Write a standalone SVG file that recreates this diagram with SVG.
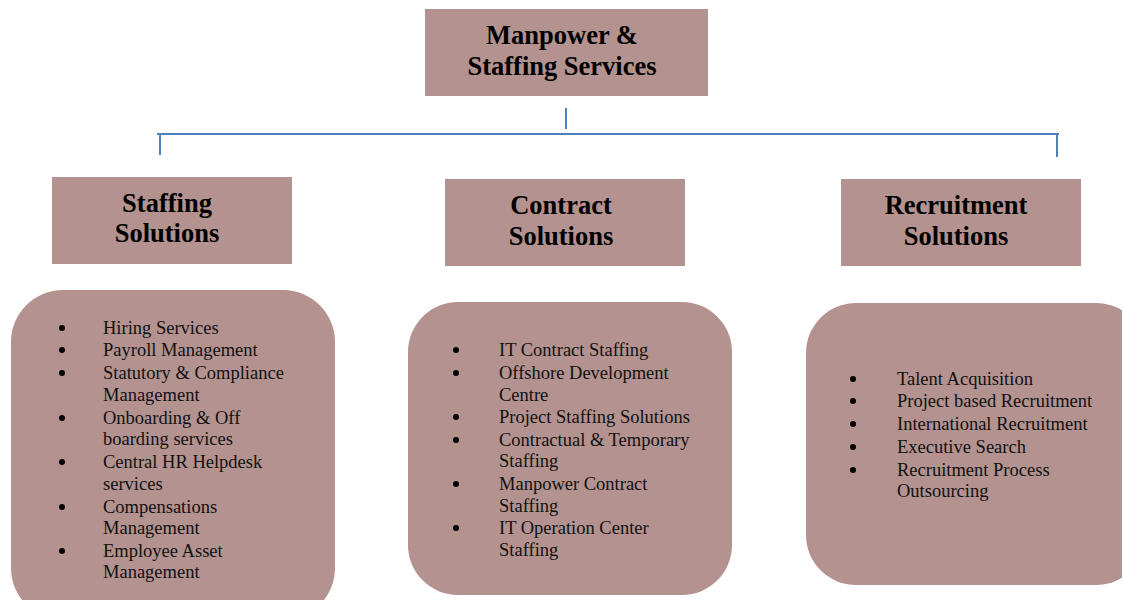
<svg xmlns="http://www.w3.org/2000/svg" width="1122" height="600" viewBox="0 0 1122 600">
<style>
.box{fill:#b3928f}
.h{font-family:"Liberation Serif","Times New Roman",serif;font-weight:bold;font-size:26.5px;fill:#000;text-anchor:middle}
.t{font-family:"Liberation Serif","Times New Roman",serif;font-size:18.5px;fill:#111}
.b{fill:#000}
.c{stroke:#4f81bd;stroke-width:2;fill:none}
</style>
<rect width="1122" height="600" fill="#fff"/>
<g id="connectors">
<line class="c" x1="566" y1="108" x2="566" y2="129"/>
<line class="c" x1="157" y1="134" x2="1059" y2="134"/>
<line class="c" x1="160" y1="134" x2="160" y2="155"/>
<line class="c" x1="1057" y1="134" x2="1057" y2="157"/>
</g>
<g id="root">
<rect class="box" x="425" y="9" width="283" height="87"/>
<text class="h" x="562" y="44">Manpower &amp;</text>
<text class="h" x="562" y="75">Staffing Services</text>
</g>
<g id="staffing">
<rect class="box" x="52" y="177" width="240" height="87"/>
<text class="h" x="167" y="212">Staffing</text>
<text class="h" x="167" y="242">Solutions</text>
</g>
<g id="contract">
<rect class="box" x="445" y="179" width="240" height="87"/>
<text class="h" x="561" y="214">Contract</text>
<text class="h" x="561" y="245">Solutions</text>
</g>
<g id="recruitment">
<rect class="box" x="841" y="179" width="240" height="87"/>
<text class="h" x="956" y="214">Recruitment</text>
<text class="h" x="956" y="245">Solutions</text>
</g>
<g id="staffing-list">
<rect class="box" x="11" y="290" width="324" height="330" rx="52"/>
<g class="b">
<circle cx="62" cy="328" r="3"/><circle cx="62" cy="350" r="3"/><circle cx="62" cy="373" r="3"/><circle cx="62" cy="418" r="3"/><circle cx="62" cy="462" r="3"/><circle cx="62" cy="507" r="3"/><circle cx="62" cy="551" r="3"/>
</g>
<g class="t">
<text x="103" y="334">Hiring Services</text>
<text x="103" y="356">Payroll Management</text>
<text x="103" y="379">Statutory &amp; Compliance</text>
<text x="103" y="401">Management</text>
<text x="103" y="424">Onboarding &amp; Off</text>
<text x="103" y="445">boarding services</text>
<text x="103" y="468">Central HR Helpdesk</text>
<text x="103" y="490">services</text>
<text x="103" y="513">Compensations</text>
<text x="103" y="534">Management</text>
<text x="103" y="557">Employee Asset</text>
<text x="103" y="578">Management</text>
</g>
</g>
<g id="contract-list">
<rect class="box" x="408" y="302" width="324" height="293" rx="50"/>
<g class="b">
<circle cx="456" cy="350" r="3"/><circle cx="456" cy="373" r="3"/><circle cx="456" cy="417" r="3"/><circle cx="456" cy="440" r="3"/><circle cx="456" cy="484" r="3"/><circle cx="456" cy="528" r="3"/>
</g>
<g class="t">
<text x="499" y="356">IT Contract Staffing</text>
<text x="499" y="379">Offshore Development</text>
<text x="499" y="401">Centre</text>
<text x="499" y="423">Project Staffing Solutions</text>
<text x="499" y="446">Contractual &amp; Temporary</text>
<text x="499" y="467">Staffing</text>
<text x="499" y="490">Manpower Contract</text>
<text x="499" y="512">Staffing</text>
<text x="499" y="534">IT Operation Center</text>
<text x="499" y="556">Staffing</text>
</g>
</g>
<g id="recruitment-list">
<rect class="box" x="806" y="303" width="340" height="282" rx="50"/>
<g class="b">
<circle cx="853" cy="379" r="3"/><circle cx="853" cy="401" r="3"/><circle cx="853" cy="424" r="3"/><circle cx="853" cy="447" r="3"/><circle cx="853" cy="470" r="3"/>
</g>
<g class="t">
<text x="897" y="385">Talent Acquisition</text>
<text x="897" y="407">Project based Recruitment</text>
<text x="897" y="430">International Recruitment</text>
<text x="897" y="453">Executive Search</text>
<text x="897" y="476">Recruitment Process</text>
<text x="897" y="497">Outsourcing</text>
</g>
</g>
</svg>
